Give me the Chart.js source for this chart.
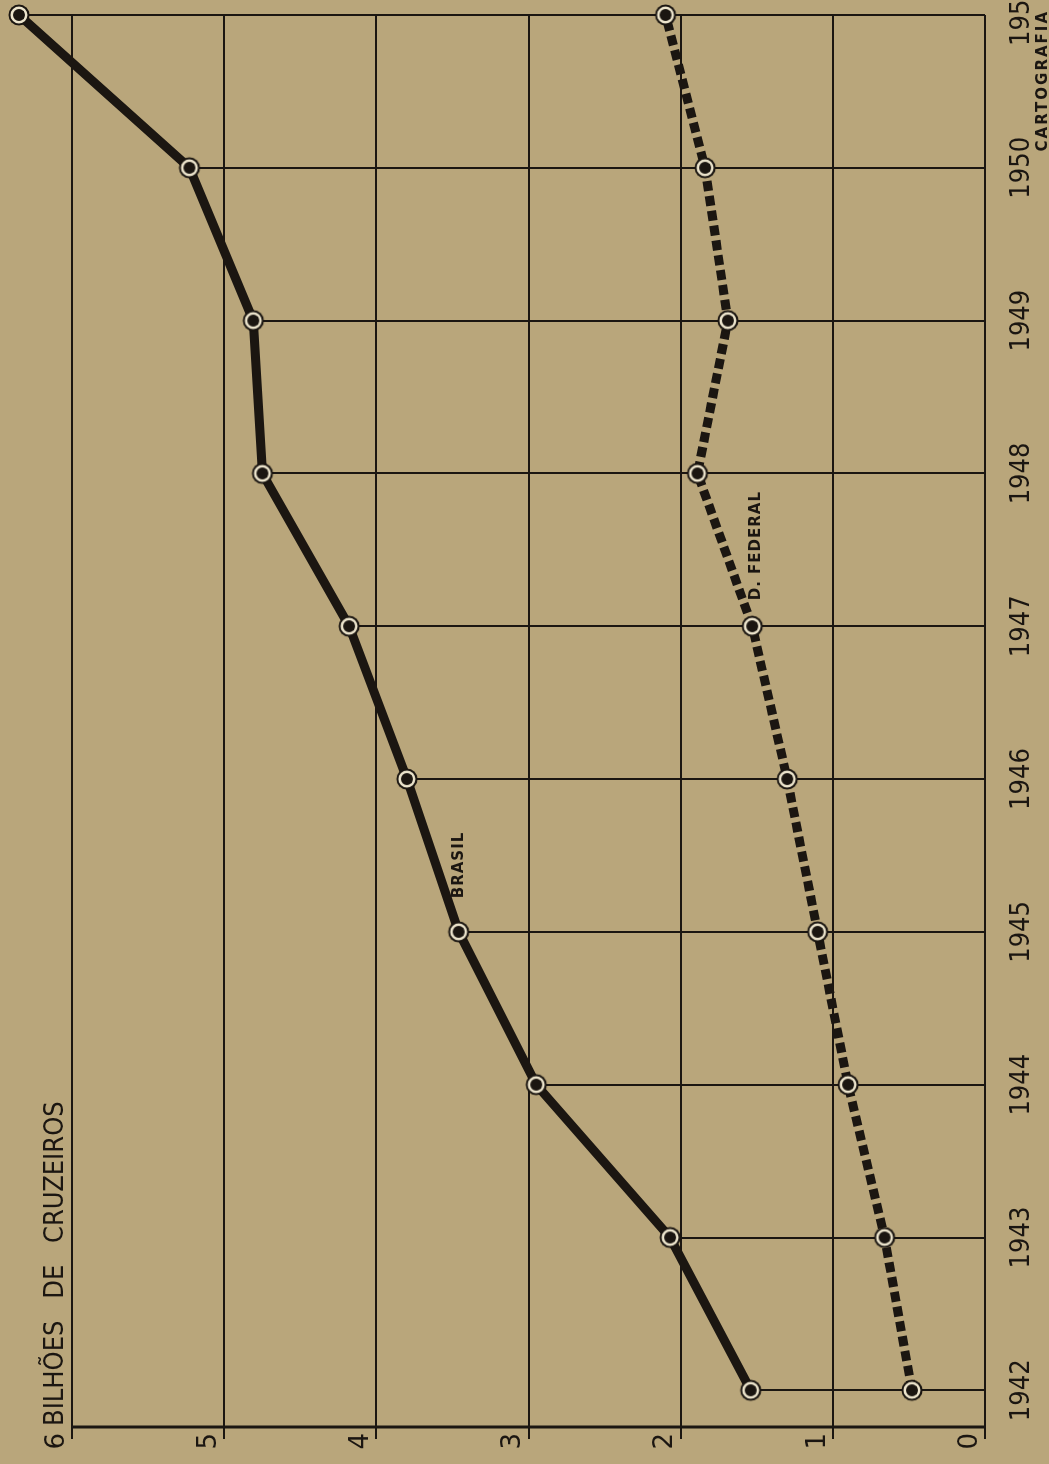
<!DOCTYPE html>
<html>
<head>
<meta charset="utf-8">
<script src="https://cdn.jsdelivr.net/npm/chart.js@4.4.1/dist/chart.umd.min.js"></script>
<style>
  html, body { margin: 0; padding: 0; width: 1049px; height: 1464px; overflow: hidden; background: #b9a67b; }
  /* the original plate is printed sideways: draw it upright, then turn it */
  #chart { position: absolute; left: 0; top: 0; transform-origin: 0 0; transform: translate(0, 1464px) rotate(-90deg); }
</style>
</head>
<body>
<canvas id="chart" width="1510" height="1049"></canvas>
<script>
const YEARS = [1942, 1943, 1944, 1945, 1946, 1947, 1948, 1949, 1950, 1951];
const BRASIL = [1.54, 2.07, 2.95, 3.46, 3.80, 4.18, 4.75, 4.81, 5.23, 6.35];
const D_FEDERAL = [0.48, 0.66, 0.90, 1.10, 1.30, 1.53, 1.89, 1.69, 1.84, 2.10];
const VALUE_TICKS = [0, 1, 2, 3, 4, 5, 6];
const UNIT_LABEL = "BILHÕES DE CRUZEIROS";

const INK = "#1b1611";
const CREAM = "#ece4cc";
const NARROW = "'Liberation Sans Narrow', 'DejaVu Sans Condensed', sans-serif";

function makeMarker() {
  const c = document.createElement("canvas");
  c.width = 24;
  c.height = 24;
  const g = c.getContext("2d");
  [[10.5, INK], [8.5, CREAM], [6, INK]].forEach(([r, color]) => {
    g.beginPath();
    g.arc(12, 12, r, 0, Math.PI * 2);
    g.fillStyle = color;
    g.fill();
  });
  return c;
}
const marker = makeMarker();

function toPoints(values) {
  return YEARS.map((year, i) => ({ x: year, y: values[i] }));
}

// value axis line (0..6 only) and thin lines dropped from each Brasil point to zero
const dropLines = {
  id: "dropLines",
  beforeDatasetsDraw(chart) {
    const { ctx, chartArea, scales: { x, y } } = chart;
    ctx.save();
    ctx.strokeStyle = INK;
    ctx.lineWidth = 3;
    ctx.beginPath();
    ctx.moveTo(chartArea.left, y.getPixelForValue(0));
    ctx.lineTo(chartArea.left, y.getPixelForValue(6) - 1);
    ctx.stroke();

    ctx.lineWidth = 2;
    YEARS.forEach((year, i) => {
      const px = Math.round(x.getPixelForValue(year));
      ctx.beginPath();
      ctx.moveTo(px, y.getPixelForValue(0));
      ctx.lineTo(px, y.getPixelForValue(BRASIL[i]));
      ctx.stroke();
    });
    ctx.restore();
  },
};

const captions = {
  id: "captions",
  afterDraw(chart) {
    const { ctx, scales: { x, y } } = chart;
    ctx.save();
    ctx.fillStyle = INK;
    ctx.textBaseline = "alphabetic";

    ctx.font = "27px " + NARROW;
    ctx.wordSpacing = "14px";
    ctx.fillText(UNIT_LABEL, 38, y.getPixelForValue(6) - 9);
    ctx.wordSpacing = "0px";

    ctx.font = "bold 15px 'DejaVu Sans', sans-serif";
    ctx.letterSpacing = "1px";
    ctx.fillText("BRASIL", x.getPixelForValue(1945.22), y.getPixelForValue(3.43));
    ctx.fillText("D. FEDERAL", x.getPixelForValue(1947.17), y.getPixelForValue(1.48));

    ctx.letterSpacing = "2px";
    ctx.textAlign = "right";
    ctx.fillText("CARTOGRAFIA", 1454, 1047);
    ctx.restore();
  },
};

new Chart(document.getElementById("chart"), {
  type: "line",
  data: {
    datasets: [
      {
        label: "Brasil",
        data: toPoints(BRASIL),
        borderColor: INK,
        borderWidth: 9,
        pointStyle: marker,
        pointRadius: 10,
        clip: false,
      },
      {
        label: "D. Federal",
        data: toPoints(D_FEDERAL),
        borderColor: INK,
        borderWidth: 9,
        borderDash: [10, 5],
        pointStyle: marker,
        pointRadius: 10,
        clip: false,
      },
    ],
  },
  options: {
    responsive: false,
    animation: false,
    devicePixelRatio: 1,
    layout: { padding: { top: 9, right: 61, left: 0, bottom: 0 } },
    plugins: { legend: { display: false }, tooltip: { enabled: false } },
    scales: {
      x: {
        type: "linear",
        min: 1941.76,
        max: 1951,
        afterBuildTicks(scale) {
          scale.ticks = YEARS.map((v) => ({ value: v }));
        },
        afterFit(scale) {
          scale.height = 64;
          scale.paddingLeft = 0;
          scale.paddingRight = 0;
        },
        grid: { display: false },
        border: { display: false },
        ticks: {
          color: INK,
          font: { family: NARROW, size: 27 },
          padding: 13,
          maxRotation: 0,
          autoSkip: false,
          callback: (v) => String(v),
        },
      },
      y: {
        min: 0,
        max: 6.35,
        afterBuildTicks(scale) {
          scale.ticks = VALUE_TICKS.map((v) => ({ value: v }));
        },
        afterFit(scale) {
          scale.width = 37;
          scale.paddingTop = 0;
          scale.paddingBottom = 0;
        },
        grid: { color: INK, lineWidth: 2, tickLength: 12 },
        border: { display: false },
        ticks: {
          color: INK,
          font: { family: "'DejaVu Sans', sans-serif", size: 26 },
          padding: -6,
          labelOffset: -15,
        },
      },
    },
  },
  plugins: [dropLines, captions],
});
</script>
</body>
</html>
